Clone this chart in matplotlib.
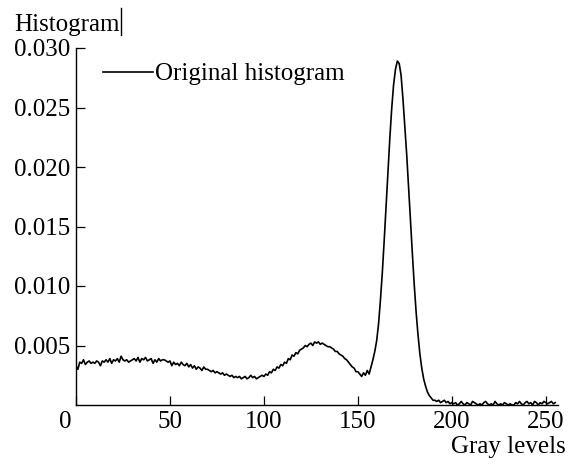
import numpy as np
import matplotlib
matplotlib.use('Agg')
import matplotlib.pyplot as plt
import matplotlib.transforms as mtransforms
from matplotlib.lines import Line2D

plt.rcParams['font.family'] = ['Liberation Serif', 'DejaVu Serif']

# Гистограмма: значения для уровней серого 0..255
hist_0_49 = [0.0033, 0.0030, 0.0036, 0.0035, 0.0038, 0.0034, 0.0036, 0.0037, 0.0035, 0.0036,
             0.0035, 0.0037, 0.0036, 0.0033, 0.0037, 0.0036, 0.0038, 0.0036, 0.0039, 0.0035,
             0.0038, 0.0037, 0.0039, 0.0036, 0.0041, 0.0038, 0.0037, 0.0038, 0.0036, 0.0037,
             0.0038, 0.0039, 0.0037, 0.0040, 0.0036, 0.0039, 0.0038, 0.0040, 0.0037, 0.0038,
             0.0039, 0.0035, 0.0038, 0.0036, 0.0039, 0.0037, 0.0038, 0.0038, 0.0037, 0.0036]
hist_50_99 = [0.0037, 0.0033, 0.0036, 0.0034, 0.0035, 0.0033, 0.0036, 0.0034, 0.0033, 0.0035,
              0.0032, 0.0034, 0.0031, 0.0033, 0.0030, 0.0032, 0.0031, 0.0029, 0.0032, 0.0030,
              0.0030, 0.0029, 0.0028, 0.0029, 0.0027, 0.0028, 0.0027, 0.0026, 0.0027, 0.0025,
              0.0026, 0.0025, 0.0024, 0.0025, 0.0023, 0.0024, 0.0023, 0.0024, 0.0022, 0.0023,
              0.0024, 0.0022, 0.0023, 0.0025, 0.0023, 0.0024, 0.0022, 0.0023, 0.0024, 0.0025]
hist_100_149 = [0.0024, 0.0026, 0.0025, 0.0028, 0.0027, 0.0030, 0.0029, 0.0032, 0.0031, 0.0034,
                0.0033, 0.0036, 0.0035, 0.0039, 0.0038, 0.0042, 0.0041, 0.0044, 0.0043, 0.0046,
                0.0047, 0.0048, 0.0050, 0.0049, 0.0051, 0.0052, 0.0050, 0.0053, 0.0052, 0.0053,
                0.0051, 0.0052, 0.0051, 0.0050, 0.0049, 0.0049, 0.0048, 0.0047, 0.0045, 0.0045,
                0.0043, 0.0042, 0.0041, 0.0039, 0.0038, 0.0036, 0.0034, 0.0032, 0.0031, 0.0028]
hist_150_199 = [0.0028, 0.0026, 0.0024, 0.0027, 0.0025, 0.0029, 0.0026, 0.0032, 0.0038, 0.0045,
                0.0054, 0.0068, 0.0088, 0.0111, 0.0138, 0.0167, 0.0196, 0.0224, 0.0249, 0.0269,
                0.0282, 0.0289, 0.0287, 0.0277, 0.0257, 0.0234, 0.0210, 0.0183, 0.0155, 0.0127,
                0.0101, 0.0078, 0.0059, 0.0043, 0.0031, 0.0022, 0.0016, 0.0011, 0.0008, 0.0006,
                0.0004, 0.0004, 0.0003, 0.0004, 0.0002, 0.0003, 0.0004, 0.0002, 0.0003, 0.0001]
hist_200_255 = [0.0002, 0.0001, 0.0002, 0.0000, 0.0001, 0.0003, 0.0001, 0.0000, 0.0002, 0.0001,
                0.0000, 0.0003, 0.0002, 0.0001, 0.0000, 0.0001, 0.0000, 0.0002, 0.0003, 0.0001,
                0.0000, 0.0001, 0.0000, 0.0003, 0.0001, 0.0000, 0.0001, 0.0000, 0.0002, 0.0001,
                0.0000, 0.0001, 0.0000, 0.0000, 0.0002, 0.0001, 0.0003, 0.0001, 0.0000, 0.0002,
                0.0003, 0.0001, 0.0002, 0.0000, 0.0003, 0.0002, 0.0000, 0.0002, 0.0001, 0.0003,
                0.0002, 0.0001, 0.0002, 0.0003, 0.0001, 0.0002]

histogram = np.array(hist_0_49 + hist_50_99 + hist_100_149 + hist_150_199 + hist_200_255)
gray_levels = np.arange(len(histogram))

x_ticks = [0, 50, 100, 150, 200, 250]
y_ticks = [0.005, 0.010, 0.015, 0.020, 0.025, 0.030]
y_tick_labels = ['0.005', '0.010', '0.015', '0.020', '0.025', '0.030']

FS = 18

fig = plt.figure(figsize=(5.7, 4.66), dpi=100)
ax = fig.add_axes([76 / 570, 61 / 466, 482 / 570, 357 / 466])

ax.plot(gray_levels, histogram, color='black', linewidth=1.2, label='Original histogram')

ax.set_xlim(0, 256.5)
ax.set_ylim(0, 0.030)

ax.spines['top'].set_visible(False)
ax.spines['right'].set_visible(False)
ax.spines['left'].set_linewidth(1.0)
ax.spines['bottom'].set_linewidth(1.0)

ax.set_xticks(x_ticks)
ax.set_xticklabels([str(t) for t in x_ticks])
ax.set_yticks(y_ticks)
ax.set_yticklabels(y_tick_labels)
ax.tick_params(axis='both', direction='in', length=6.5, width=0.9, labelsize=FS)
ax.tick_params(axis='x', pad=4)
ax.tick_params(axis='y', pad=4)

# сдвиг подписи "0" влево, как в оригинале
first = ax.get_xticklabels()[0]
first.set_transform(first.get_transform() +
                    mtransforms.ScaledTranslation(-11 / 100, 0, fig.dpi_scale_trans))

ax.legend(loc='center left', bbox_to_anchor=(0.056, 0.927), frameon=False,
          fontsize=FS, handlelength=2.0, handletextpad=0.1,
          borderaxespad=0, borderpad=0)

fig.text(14 / 570, (466 - 31) / 466, 'Histogram', fontsize=FS, ha='left', va='baseline')
fig.text(566 / 570, (466 - 453) / 466, 'Gray levels', fontsize=FS, ha='right', va='baseline')
# вертикальная черта после заголовка
fig.add_artist(Line2D([121 / 570, 121 / 570], [(466 - 8) / 466, (466 - 35) / 466],
                      color='black', linewidth=1.0, transform=fig.transFigure))

fig.savefig('out.png', dpi=100)
